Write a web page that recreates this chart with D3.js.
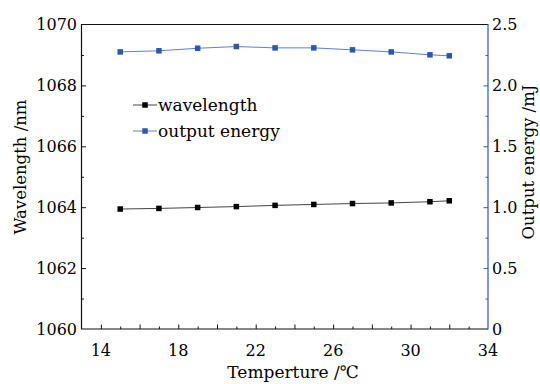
<!DOCTYPE html>
<html>
<head>
<meta charset="utf-8">
<script src="https://cdn.jsdelivr.net/npm/d3@7"></script>
<style>
  body { margin: 0; background: #fff; }
  text { font-family: "DejaVu Serif", serif; fill: #000; }
</style>
</head>
<body>
<div id="chart"></div>
<script>
// data
const temperature = [15, 17, 19, 21, 23, 25, 27, 29, 31, 32];
const wavelength = [1063.94, 1063.96, 1063.99, 1064.02, 1064.06, 1064.09, 1064.12, 1064.14, 1064.18, 1064.21];
const energy = [2.275, 2.284, 2.305, 2.319, 2.308, 2.308, 2.292, 2.275, 2.251, 2.243];
const xTicks = [14, 18, 22, 26, 30, 34];
const yLeftTicks = [1060, 1062, 1064, 1066, 1068, 1070];
const yRightTicks = [0, 0.5, 1.0, 1.5, 2.0, 2.5];
const seriesNames = ['wavelength', 'output energy'];

const W = 540, H = 384;
const m = { left: 81.5, right: 488, top: 24.5, bottom: 329 };
const blue = '#2a58b0';

const svg = d3.select('#chart').append('svg')
  .attr('width', W).attr('height', H);

const x = d3.scaleLinear().domain([13, 34]).range([m.left, m.right]);
const yL = d3.scaleLinear().domain([1060, 1070]).range([m.bottom, m.top]);
const yR = d3.scaleLinear().domain([0, 2.5]).range([m.bottom, m.top]);

// frame: top + left + bottom black, right blue
svg.append('path')
  .attr('d', `M${m.right},${m.top}H${m.left}V${m.bottom}H${m.right}`)
  .attr('fill', 'none').attr('stroke', '#111').attr('stroke-width', 1.2);

// bottom axis, ticks inward
const xAxis = svg.append('g').attr('transform', `translate(0,${m.bottom})`);
xAxis.call(d3.axisBottom(x).tickValues(d3.range(14, 34, 1)).tickSize(0).tickFormat(''));
xAxis.select('.domain').remove();
xAxis.selectAll('.tick line')
  .attr('y2', d => d % 2 === 0 ? -4.5 : -2.5)
  .attr('stroke', '#111');
svg.append('g').selectAll('text').data(xTicks).join('text')
  .attr('x', d => x(d)).attr('y', 356)
  .attr('text-anchor', 'middle').style('font-size', '16px')
  .text(d => d);

// left axis, ticks inward
const yLAxis = svg.append('g').attr('transform', `translate(${m.left},0)`);
yLAxis.call(d3.axisLeft(yL).tickValues(d3.range(1061, 1070, 1)).tickSize(0).tickFormat(''));
yLAxis.select('.domain').remove();
yLAxis.selectAll('.tick line')
  .attr('x2', d => d % 2 === 0 ? 4.5 : 2.5)
  .attr('stroke', '#111');
svg.append('g').selectAll('text').data(yLeftTicks).join('text')
  .attr('x', m.left - 4.5).attr('y', d => yL(d))
  .attr('dy', '0.36em')
  .attr('text-anchor', 'end').style('font-size', '16px')
  .text(d => d);

// right axis in blue, ticks inward
const yRAxis = svg.append('g').attr('transform', `translate(${m.right},0)`);
yRAxis.call(d3.axisRight(yR).tickValues(d3.range(0.25, 2.5, 0.25)).tickSize(0).tickFormat(''));
yRAxis.select('.domain').remove();
yRAxis.selectAll('.tick line')
  .attr('x2', (d, i) => i % 2 === 1 ? -4.5 : -2.5)
  .attr('stroke', blue);
svg.append('line')
  .attr('x1', m.right).attr('x2', m.right)
  .attr('y1', m.top - 0.6).attr('y2', m.bottom + 0.6)
  .attr('stroke', blue).attr('stroke-width', 1.2);
svg.append('g').selectAll('text').data(yRightTicks).join('text')
  .attr('x', m.right + 4).attr('y', d => yR(d))
  .attr('dy', '0.36em')
  .style('font-size', '16px')
  .text(d => d === 0 ? '0' : d3.format('.1f')(d));

// axis titles
svg.append('text')
  .attr('x', 293).attr('y', 378)
  .attr('text-anchor', 'middle').style('font-size', '17px')
  .text('Temperture /℃');
svg.append('text')
  .attr('transform', 'translate(26,167) rotate(-90)')
  .attr('text-anchor', 'middle').style('font-size', '16.5px')
  .text('Wavelength /nm');
svg.append('text')
  .attr('transform', 'translate(534,162) rotate(-90)')
  .attr('text-anchor', 'middle').style('font-size', '16.5px')
  .text('Output energy /mJ');

// series
const wlData = temperature.map((t, i) => [t, wavelength[i]]);
const enData = temperature.map((t, i) => [t, energy[i]]);
const ms = 5.5;

svg.append('path').datum(wlData)
  .attr('d', d3.line().x(d => x(d[0])).y(d => yL(d[1])))
  .attr('fill', 'none').attr('stroke', '#444').attr('stroke-width', 1);
svg.append('g').selectAll('rect').data(wlData).join('rect')
  .attr('x', d => x(d[0]) - ms / 2).attr('y', d => yL(d[1]) - ms / 2)
  .attr('width', ms).attr('height', ms).attr('fill', '#000');

svg.append('path').datum(enData)
  .attr('d', d3.line().x(d => x(d[0])).y(d => yR(d[1])))
  .attr('fill', 'none').attr('stroke', '#5a82cc').attr('stroke-width', 1);
svg.append('g').selectAll('rect').data(enData).join('rect')
  .attr('x', d => x(d[0]) - ms / 2).attr('y', d => yR(d[1]) - ms / 2)
  .attr('width', ms).attr('height', ms).attr('fill', blue);

// legend
const legend = svg.append('g');
const legColors = [['#444', '#000'], ['#5a82cc', blue]];
const leg = legend.selectAll('g').data(seriesNames).join('g')
  .attr('transform', (d, i) => `translate(133,${105 + i * 26})`);
leg.append('line')
  .attr('x1', 0).attr('x2', 24)
  .attr('stroke', (d, i) => legColors[i][0]).attr('stroke-width', 1);
leg.append('rect')
  .attr('x', 12 - ms / 2).attr('y', -ms / 2)
  .attr('width', ms).attr('height', ms)
  .attr('fill', (d, i) => legColors[i][1]);
leg.append('text')
  .attr('x', 25).attr('dy', '0.33em')
  .style('font-size', '17px')
  .text(d => d);
</script>
</body>
</html>
